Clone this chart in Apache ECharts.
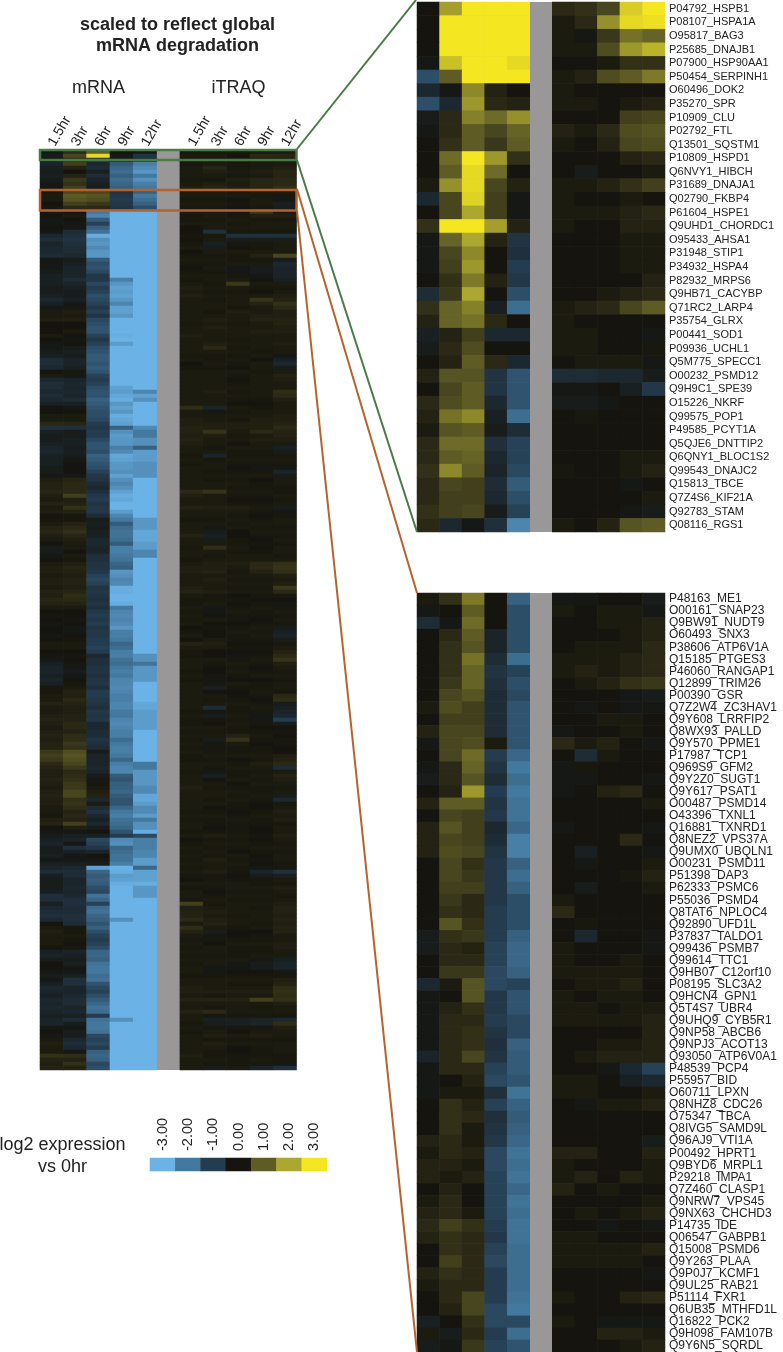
<!DOCTYPE html>
<html>
<head>
<meta charset="utf-8">
<title>scaled to reflect global mRNA degradation</title>
<style>
  html, body { margin: 0; padding: 0; background: #fff; }
  #chart { width: 783px; height: 1352px; }
</style>
<script src="https://cdn.jsdelivr.net/npm/echarts@6/dist/echarts.min.js"></script>
</head>
<body>
<div id="chart"></div>
<script>
const timeLabels = ['1.5hr', '3hr', '6hr', '9hr', '12hr']
const legendValues = [-3, -2, -1, 0, 1, 2, 3]
const scaleColors = ['#6bb3e6', '#44799f', '#233c4f', '#15140e', '#5e5b25', '#aca72e', '#f4e620']

// full heatmap, one array per time point, top to bottom
const mrna15 = [
  -.1,-.2,-.1,-.4,-.3,-.2,-.3,-.2,-.1,-.1,
  .05,.1,.1,0,.05,-.1,-.05,-.1,-.1,0,
  -.1,-.5,-.6,-.4,-.5,-.5,-.6,-.1,-.1,-.1,
  -.2,-.3,-.3,-.3,-.2,-.2,-.3,-.5,-.3,-.1,
  .1,.1,.15,0,0,0,.1,0,-.1,-.1,
  -.2,-.3,-.6,-.6,-.5,0,.1,-.5,-.6,-.6,
  -.5,-.6,-.5,-.3,0,0,.1,.1,.3,-.7,
  -.3,-.2,-.2,-.3,-.4,-.5,-.3,-.3,-.3,-.2,
  -.2,-.1,.15,.2,.2,.25,.15,.1,.2,.1,
  .15,0,.05,.1,.2,.25,.15,.1,0,-.2,
  -.2,-.1,0,.1,.15,.15,.1,.15,.15,.1,
  .2,.15,.25,.2,.1,0,.05,0,-.1,0,
  0,-.1,0,.1,.1,0,.05,-.1,-.3,-.4,
  -.4,-.3,-.4,-.3,.05,.05,.1,.1,.2,.1,
  .1,.15,.2,.15,.1,.15,.2,.15,.2,.2,
  .5,.6,.5,.3,.2,.15,.15,.2,.15,.1,
  .15,.2,.15,.15,.1,.1,.05,.15,.2,0,
  -.1,-.2,-.3,-.4,-.2,-.2,-.3,-.1,-.3,-.4,
  -.6,-.3,-.2,-.2,-.2,-.3,-.7,-.6,-.3,-.5,
  -.6,-.7,-.5,0,.1,.15,.1,.1,.1,0,
  -.3,-.4,-.2,0,0,-.1,-.2,-.1,-.3,-.5,
  -.4,-.3,-.5,-.4,-.5,-.4,-.3,-.4,-.4,-.1,
  0,-.1,.1,.15,.1,.1,.4,.2,.15,.2
]
const mrna3 = [
  .3,.7,.3,.6,.2,0,.2,.5,.4,.6,
  .7,1,.9,.6,.3,0,.1,0,-.1,-.1,
  -.6,-.7,-.8,-.7,-.6,-.6,-.5,-.2,-.3,-.4,
  -.4,-.4,-.6,-.4,-.3,-.2,-.2,-.3,-.1,.05,
  .15,.1,.15,0,0,.1,0,-.1,0,-.2,
  -.3,-.2,-.4,-.4,-.3,.05,-.1,-.4,-.5,-.4,
  -.5,-.4,-.6,-.3,-.1,0,.1,.1,.25,-.7,
  -.2,-.2,-.3,-.3,-.2,-.3,-.2,-.1,0,0,
  0,-.1,.25,.3,.3,.3,.6,.15,.2,.4,
  .2,.05,.05,.2,.3,.4,.25,.15,.1,.1,
  0,.1,.05,.15,.25,.2,.15,.2,.2,.15,
  .25,.35,.3,.2,.1,0,0,.05,0,-.1,
  -.1,0,.05,.1,.1,0,.05,0,.05,-.1,
  -.2,-.1,0,.05,.1,.2,.15,.3,.2,.15,
  .15,.2,.2,.3,.3,.2,.35,.35,.5,.4,
  .8,.9,.8,.7,.5,.3,.35,.4,.5,.5,
  .7,.7,.4,.45,.35,.2,.3,.2,.6,.15,
  -.1,-.3,-.4,-.1,-.7,-.3,-.1,-.1,-.3,-.5,
  -.6,-.6,-.4,-.4,-.5,-.4,-.5,-.7,-.7,-.6,
  -.6,-.7,-.7,-.6,.05,.05,.1,.05,0,.05,
  -.4,-.3,-.2,-.3,-.1,-.1,-.3,-.7,-.7,-.4,
  -.4,-.5,-.6,-.6,-.4,-.5,-.3,-.6,-.2,-.1,
  -.2,-.2,-.5,-.6,-.5,-.1,.35,.2,.4,.2
]
const mrna6 = [
  1,2.8,.4,-.5,-.6,-.3,-.6,-.4,-.3,-.2,
  .7,.9,.8,.5,.3,-2,-2.2,-1.5,-1.1,-1.6,
  -1.9,-2.9,-2.4,-2.5,-2.3,-2.5,-2.5,-1.5,-1.3,-1.4,
  -1.2,-.9,-.9,-1.2,-1,-1.1,-1.3,-1.2,-1.1,-.9,
  -1.1,-.8,-1.2,-1.3,-1.4,-1.4,-1.1,-.9,-1.1,-1.3,
  -1.4,-1.5,-1.5,-1.4,-1.5,-1.4,-1.1,-1,-1.1,-1.3,
  -1.4,-1.4,-1.6,-1.5,-1.4,-1.3,-1.3,-1.2,-1,-.9,
  -1,-1,-1.2,-1.4,-1.4,-1.3,-1.6,-1.5,-1.4,-1.3,
  -1.1,-.9,-.8,-.6,-.5,-.7,-.9,-1,-.8,-.9,
  -.9,-.6,-.2,-.3,-.2,-.3,-.3,-.5,-.5,-.4,
  -.4,-.7,-.7,-.8,-.8,-.9,-1.1,-1.2,-1.1,-.8,
  -.9,-.8,-.7,-.8,-.7,-.9,-1,-.9,-1,-.8,
  -.9,-.9,-1,-1,-1.1,-1,-.5,-.7,-.7,-.8,
  -.8,-.7,-.8,-.9,-.7,-1,-1,-.9,-.8,-.7,
  -.9,-.8,-.9,-.5,-.5,-.6,-.6,-.8,-.7,-.6,
  -.2,-.4,-.4,-.4,-.5,-.4,-.2,-.1,.05,.1,
  .15,.2,-.5,.1,-.6,-.8,-.5,-.3,-.5,-.2,
  0,-.3,-1.2,-1.1,-.9,-.4,0,-.1,-.2,-2.7,
  -1.7,-1.5,-1.6,-1.5,-1.3,-1.2,-1.9,-1.7,-1.1,-1.8,
  -1.9,-1.7,-1.6,-1.4,-1.6,-1.3,-1.1,-1,-1.1,-1.3,
  -1.7,-1.7,-1.6,-1.9,-2,-2,-1.8,-1.9,-1.4,-1.2,
  -1.1,-1.3,-1.5,-1.7,-1.9,-1.8,-1,-1.9,-2,-2,
  -1.9,-1.2,-1.1,-1.2,-1,-1.6,-1.7,-1.6,-1.2,-1.3
]
const mrna9 = [
  0,-.1,-.2,-1.5,-1.7,-1.8,-1.6,-1.8,-1.7,-1.6,
  -.8,-.9,-1,-.9,-.8,-3,-3,-3,-3,-3,
  -3,-3,-3,-3,-3,-3,-3,-3,-3,-3,
  -3,-3,-2.1,-2.5,-2.7,-2.6,-2.7,-2.5,-2.2,-2.7,
  -2.7,-2.5,-3,-3,-3,-3,-2.9,-3,-2.6,-3,
  -3,-3,-3,-3,-3,-3,-3,-3,-3,-2.7,
  -2.6,-2.8,-2.9,-2.5,-2.7,-2.5,-2.9,-2.8,-2.7,-1.6,
  -2.4,-2.6,-2.5,-2.5,-2.1,-2.3,-2.8,-2.7,-2.5,-2.5,
  -2.4,-2.7,-2.4,-2.2,-2.4,-2.7,-2.9,-2.8,-3,-3,
  -2.6,-2.2,-2,-1.5,-1.8,-1.9,-1.9,-1.8,-1.5,-2.1,
  -2.1,-2,-1.9,-1.7,-1.6,-2.5,-2.4,-2.2,-2.3,-2.9,
  -2.9,-3,-3,-2.9,-2,-2.2,-2.3,-2.2,-2.3,-2.5,
  -2.1,-2.1,-2,-1.7,-1.8,-2.1,-2.1,-1.9,-1.8,-2,
  -2.1,-2,-2.2,-2.2,-2.3,-2.2,-2.1,-2.1,-2.2,-2.2,
  -2,-2,-2.2,-2.3,-2.2,-2.1,-2.1,-1.8,-2,-2.1,
  -2.1,-2,-1.7,-2.1,-2.2,-2.2,-1.5,-1.4,-1.6,-1.6,
  -1.7,-1.5,-1.4,-1.4,-1.7,-2,-2.1,-1.9,-1.8,-1.7,
  -1.4,-1,-2.3,-2.4,-1.7,-1.8,-1.9,-1.9,-2.1,-3,
  -2.9,-2.6,-2.7,-2.9,-3,-3,-3,-3,-3,-3,
  -3,-3,-2.4,-3,-3,-3,-3,-3,-3,-3,
  -3,-3,-3,-3,-3,-3,-3,-3,-3,-3,
  -3,-3,-3,-3,-3,-3,-3,-2.4,-3,-3,
  -3,-3,-3,-3,-3,-3,-3,-3,-3,-3
]
const mrna12 = [
  -.1,-.8,-.6,-2.1,-2.3,-2.5,-2,-2.4,-2.1,-2,
  -1.6,-2,-1.8,-1.6,-1.3,-3,-3,-3,-3,-3,
  -3,-3,-3,-3,-3,-3,-3,-3,-3,-3,
  -3,-3,-3,-3,-3,-3,-3,-3,-3,-3,
  -3,-3,-3,-3,-3,-3,-3,-3,-3,-3,
  -3,-3,-3,-3,-3,-3,-3,-3,-3,-3,
  -2.2,-2.7,-2.4,-3,-3,-3,-3,-3,-3,-2.3,
  -2,-2,-2.4,-2.4,-1.6,-2.6,-2.6,-2.6,-2.4,-2.4,
  -2.4,-2.4,-3,-3,-3,-3,-3,-3,-3,-3,
  -3,-3,-2.5,-2.5,-2.5,-2.8,-2.8,-2.8,-2.6,-2.6,
  -2.2,-2.2,-3,-3,-3,-3,-3,-3,-3,-3,
  -3,-3,-3,-3,-3,-3,-3,-3,-3,-3,
  -3,-3,-3,-3,-3,-3,-2.4,-2.4,-1.9,-2.5,
  -2.5,-2.5,-2.5,-3,-3,-3,-3,-3,-2.8,-2.8,
  -2.6,-2.6,-2.6,-2.6,-2.6,-3,-3,-3,-3,-3,
  -3,-3,-3,-2,-2,-2.5,-2.5,-2.5,-2.5,-2.3,
  -2.3,-2.8,-2.8,-2.6,-2.3,-2.3,-2.6,-2,-2.4,-2.4,
  -2.9,-1.2,-2.1,-2.1,-2.1,-2.2,-2.2,-2.6,-2.6,-1.7,
  -2.7,-2.7,-2.7,-2.9,-2.5,-2.5,-2.5,-3,-3,-3,
  -3,-3,-3,-3,-3,-3,-3,-3,-3,-3,
  -3,-3,-3,-3,-3,-3,-3,-3,-3,-3,
  -3,-3,-3,-3,-3,-3,-3,-3,-3,-3,
  -3,-3,-3,-3,-3,-3,-3,-3,-3,-3
]
const itraq15 = [
  .05,.1,.05,.05,.1,.1,.1,.05,.1,.15,
  .1,.1,.05,.1,.05,.1,.05,.05,.1,0,
  0,.05,0,.05,.1,0,.05,.1,.05,0,
  .05,.1,.05,.1,.15,.1,.15,.1,.1,.1,
  .1,.1,.1,.05,.1,.1,.15,.1,.1,.1,
  .1,.05,.1,0,.05,.1,.1,.1,.1,.1,
  .1,.1,.1,.1,.35,.1,.1,.15,.15,.2,
  .2,.15,.2,.15,.1,.1,.05,.1,.05,.1,
  .1,.1,.1,.1,.1,.3,.15,.1,.1,.2,
  .1,.1,.05,.1,.1,.1,.2,.1,.1,.05,
  .1,.1,.05,.1,.15,.15,.1,.1,.1,.15,
  .2,.1,.05,.05,.1,.05,.1,.05,.1,0,
  .05,.1,0,.2,.1,.05,.05,.1,.1,.1,
  .05,.1,.05,.1,.1,.1,.1,.1,.1,.1,
  .05,.1,.05,.05,.1,.05,.1,.05,.1,.05,
  .1,.05,.05,.1,.1,.05,.1,.1,.1,.15,
  .1,.1,.1,.1,.1,.05,.1,.05,.1,.1,
  .05,.1,0,.05,.1,.05,.1,.05,.1,.05,
  .1,.05,0,.1,.05,.1,.1,.05,.6,.15,
  .2,.2,.3,.1,.35,.2,.1,.05,.1,.05,
  .1,.05,.1,.05,.1,.1,.05,.1,.1,.15,
  .15,.1,.2,.1,.1,.2,.1,.1,.05,.1,
  .05,.1,.1,.1,.1,.1,.15,.1,.1,.1
]
const itraq3 = [
  .05,.1,.05,.1,.25,.15,.1,.05,.15,.25,
  .1,.1,.05,.1,.05,.1,.1,.05,.1,.1,
  -.7,.05,.1,-.3,-.2,.1,.05,.1,.05,.1,
  .05,.1,.1,.05,.1,.05,.1,.05,.1,.1,
  .05,.1,.15,.1,.15,.1,.1,.1,.15,.3,
  .1,.05,.05,.1,.05,.1,.1,.1,.1,.1,
  .15,.1,.1,.1,-.4,-.1,.1,.1,.15,.15,
  .45,.15,.1,.1,.05,.1,-.4,.05,.1,.1,
  .05,.1,.05,.1,.1,.45,.1,.1,.1,.15,
  .1,.1,.05,.1,-.1,-.2,-.3,-.2,.1,.35,
  .1,.05,.1,.15,.15,.2,.1,.15,.1,.1,
  .15,.05,.05,.1,-.1,-.1,-.05,.1,0,.05,
  0,0,.1,.15,.1,0,0,.1,.05,0,
  0,.05,-.1,.05,-.3,0,.1,.05,.1,-.6,
  -.1,-.2,.05,0,.1,.05,.1,-.2,-.1,.05,
  .05,.1,.05,.1,.05,-.1,-.3,0,.1,.05,
  .1,.1,.05,.1,0,.05,.1,.05,.05,0,
  .05,.15,.05,.1,.05,.1,.05,.15,.1,.1,
  .15,.05,.05,.1,.05,0,.05,.1,.05,.1,
  .15,.1,.15,.2,.1,-.2,-.1,.05,0,.1,
  .1,.05,.1,.1,-.1,-.1,.05,.1,.1,.1,
  .15,.05,.2,.1,.05,.3,.05,-.3,-.2,.05,
  .1,.15,.05,.15,.1,.05,.05,.1,.05,-.2
]
const itraq6 = [
  .05,0,.05,.05,.05,.1,.05,.15,.1,.15,
  .05,.1,0,.05,0,.05,.05,.1,.05,.1,
  .05,-.7,-.2,.05,0,.1,.05,.05,.1,-.1,
  -.1,.05,.1,.5,.1,.05,.1,.1,.1,.05,
  .15,.1,.1,.05,.1,.1,.1,.05,.1,.05,
  .1,.05,.1,.05,0,.1,.05,0,.05,.1,
  .05,.1,.05,0,.1,.05,.1,.05,.15,.15,
  .1,.05,.1,0,.1,.05,.05,.1,.05,0,
  .05,.1,.05,.1,.05,.1,.05,0,.05,.15,
  .1,.05,.1,.05,.1,0,0,.05,.05,.1,
  .05,.1,.1,.15,.1,.05,.1,.05,.1,.05,
  .1,0,.05,0,.05,.1,.05,.05,0,.05,
  .1,.05,.05,0,.05,0,-.1,.05,.1,.05,
  .1,.05,0,.1,.05,0,-.05,.05,.1,.05,
  .05,.1,.05,.1,.05,.05,.2,.45,.1,.05,
  .05,.1,0,.05,.1,.05,.05,.1,0,.05,
  .1,.05,.1,.05,.05,0,.05,.1,.05,.05,
  .05,.1,.05,.1,.05,0,.1,.05,.1,.05,
  .05,0,.05,.1,.1,.05,.1,.05,.1,.1,
  .1,.05,.1,.1,.05,0,0,.05,.1,.05,
  .05,.05,.1,-.1,-.1,0,.05,.1,.05,.1,
  .15,.1,.2,.1,.1,.1,.05,-.3,-.3,.05,
  0,.1,.05,.1,0,0,.05,.05,.05,.1
]
const itraq9 = [
  .1,.3,.1,.1,.1,.15,.1,.25,.25,.25,
  .1,.05,.1,.1,.05,.5,.15,.05,.1,.1,
  .05,-.7,-.2,.05,.05,.1,.2,.05,.1,-.2,
  -.2,-.1,0,.1,.05,0,.1,.45,.2,.1,
  .1,.15,.2,.1,.1,.15,.1,.1,.1,.1,
  .05,.1,0,.1,.1,.05,.1,.1,.1,.1,
  .1,.1,.05,0,.05,.1,.1,.15,.15,.15,
  .3,.1,.15,.1,.1,.05,.05,.1,.05,-.1,
  .05,.1,0,.05,.05,.1,.05,0,.05,.1,
  .05,0,.05,.1,.05,.1,.05,0,.05,0,
  .05,.1,.1,.3,.3,.2,.1,.05,.1,.05,
  .1,.05,0,.05,.1,.05,.05,0,.05,.1,
  .05,.1,.05,0,.05,0,.05,.1,.05,0,
  .05,.1,0,.05,.05,.1,.05,0,.05,.1,
  .05,-.1,-.1,.05,0,.05,.1,.05,0,.05,
  .05,.1,.05,.15,.1,.05,.1,.05,.1,.05,
  .05,.1,.05,0,0,.05,.1,.05,.05,0,
  0,.05,0,.05,.1,.05,0,.05,0,-.1,
  -.4,-.2,.05,.05,.1,.05,.1,.05,.1,.05,
  .1,.1,.1,.05,.1,0,.05,.05,.1,.05,
  .05,.1,-.1,-.2,-.2,0,.05,.1,.05,.1,
  .15,.1,.6,.1,.05,.1,.05,-.4,-.4,.05,
  .1,.15,.05,.1,.05,.05,.05,.1,.05,-.4
]
const itraq12 = [
  .1,.25,.1,.1,.15,.25,.25,.3,.3,.4,
  .1,.05,-.1,-.3,-.2,.1,.15,.05,.1,.1,
  .05,-.7,-.2,.1,.1,.1,.7,-.2,-.5,-.4,
  -.4,-.4,-.3,.1,.05,.1,.15,.2,.4,.3,
  .15,.15,.2,.2,.15,.15,.1,.1,.15,.1,
  .1,-.1,-.3,-.5,-.2,.1,.2,.15,.1,.1,
  .35,.3,.15,.1,.1,.1,.15,.15,.2,.3,
  .2,.2,.15,.1,-.3,-.2,.05,.1,.05,-.1,
  -.4,-.2,.1,.1,.05,.05,.1,.05,.1,-.2,
  -.1,.05,.1,.1,.05,.1,.05,.1,.05,.1,
  .1,.05,.1,.4,.45,.4,.15,.1,.15,.5,
  .3,.05,0,-.1,.05,.1,.05,.1,.05,-.2,
  -.3,-.4,-.2,.05,.1,.2,.3,.45,.15,.1,
  .05,.1,.05,.1,.1,.05,.3,.35,-.2,-.3,
  -.4,-.5,-1,-.2,0,.05,0,.05,.05,0,
  0,.15,.2,.3,-.6,.1,.2,.15,.1,.05,
  .1,-.2,-.5,.05,.1,.15,.1,.15,.05,.1,
  .1,.15,.1,.05,.1,.05,.1,.1,.05,.05,
  -.7,-.3,.1,.05,.15,.1,.05,.1,.15,.2,
  .2,.15,.2,.15,.2,.2,.1,.1,.15,.15,
  .1,.1,-.3,-.4,-.4,-.1,.05,.15,.2,.35,
  .4,.35,.4,.15,.1,.1,.05,-.5,.35,.15,
  .1,.1,.05,.1,.1,.1,.05,.05,-.1,-.7
]

// green cluster, mRNA x5 then iTRAQ x5 per protein
const topLabels = [
  'P04792_HSPB1', 'P08107_HSPA1A', 'O95817_BAG3', 'P25685_DNAJB1', 'P07900_HSP90AA1',
  'P50454_SERPINH1', 'O60496_DOK2', 'P35270_SPR', 'P10909_CLU', 'P02792_FTL',
  'Q13501_SQSTM1', 'P10809_HSPD1', 'Q6NVY1_HIBCH', 'P31689_DNAJA1', 'Q02790_FKBP4',
  'P61604_HSPE1', 'Q9UHD1_CHORDC1', 'O95433_AHSA1', 'P31948_STIP1', 'P34932_HSPA4',
  'P82932_MRPS6', 'Q9HB71_CACYBP', 'Q71RC2_LARP4', 'P35754_GLRX', 'P00441_SOD1',
  'P09936_UCHL1', 'Q5M775_SPECC1', 'O00232_PSMD12', 'Q9H9C1_SPE39', 'O15226_NKRF',
  'Q99575_POP1', 'P49585_PCYT1A', 'Q5QJE6_DNTTIP2', 'Q6QNY1_BLOC1S2', 'Q99543_DNAJC2',
  'Q15813_TBCE', 'Q7Z4S6_KIF21A', 'Q92783_STAM', 'Q08116_RGS1'
]
const topValues = [
  [0,1.9,3,3,3,.3,.4,.7,2.6,3],
  [0,3,3,3,3,.1,.3,1.7,2.8,2.9],
  [0,3,3,3,3,.1,-.1,.5,1.3,1.1],
  [0,3,3,3,3,.1,.1,.8,1.8,2.2],
  [-.1,2.4,3,3,2.8,0,0,.1,.4,.4],
  [-1.3,1,3,3,3,.1,.2,.8,1,1.4],
  [-.5,-.1,1.6,.2,0,.1,0,0,0,0],
  [-1.3,-.5,1.8,.3,.2,.1,.1,0,.1,.2],
  [-.2,.3,1.5,1.2,1.7,0,0,0,.6,.7],
  [-.1,.3,1,.7,1.1,.2,.1,.3,.8,.9],
  [0,.4,1,.5,1,.1,0,.2,.7,.8],
  [0,1.2,3,1.8,.4,0,0,0,.2,.3],
  [0,1,2.8,1.2,0,0,-.2,0,0,.1],
  [.1,1.7,2.8,.7,.2,.1,.1,.2,.4,.6],
  [-.5,.7,2.7,.6,-.1,.1,0,0,.1,0],
  [0,.7,2,.6,-.1,.1,.1,.1,.2,.3],
  [.4,3,3,1.9,.2,.1,0,0,.2,.2],
  [-.1,1.1,2,.2,-.8,0,0,0,.1,.1],
  [-.1,.7,1.6,0,-.7,0,0,0,.1,.1],
  [-.1,.6,1.8,0,-1,0,0,0,.1,.1],
  [0,.4,1.4,.2,-.9,0,0,0,0,.2],
  [-.6,.5,2,0,-1.3,0,0,.1,.2,.3],
  [.4,1.1,1.5,-.3,-1.8,.1,.2,.3,.7,1],
  [.2,1.1,1.3,.3,0,.1,0,0,0,0],
  [-.3,.2,.6,-.5,-.5,.1,.1,0,0,-.1],
  [-.2,.3,.8,0,0,.1,.1,0,0,.05],
  [0,.2,1,.3,-.5,0,.1,.1,.1,-.1],
  [.2,.9,.9,-.8,-1.4,-.6,-.6,-.5,-.5,-.2],
  [0,.7,1,-.8,-1.4,-.1,-.1,0,-.3,-.9],
  [.3,.8,1,-.5,-1.4,-.2,-.2,-.1,0,0],
  [.2,1.3,1.6,-.3,-1.8,0,.05,0,0,0],
  [.1,.9,1,-.2,-.6,0,0,0,0,0],
  [.3,1.2,1.2,-.7,-1.1,0,0,0,0,0],
  [.3,1,1.1,-.5,-1.1,0,0,0,.1,.1],
  [.4,1.6,1,-.4,-1.2,.05,0,0,.1,.2],
  [.3,.7,.6,-.6,-1.5,0,0,0,-.1,0],
  [.3,.6,.6,-.5,-1.3,0,0,0,0,.1],
  [.4,.6,.7,-.2,-1.1,0,0,0,-.1,-.2],
  [.3,-.5,-.1,-.7,-2.2,.1,0,.2,.9,1]
]

// orange cluster
const bottomLabels = [
  'P48163_ME1', 'O00161_SNAP23', 'Q9BW91_NUDT9', 'O60493_SNX3', 'P38606_ATP6V1A',
  'Q15185_PTGES3', 'P46060_RANGAP1', 'Q12899_TRIM26', 'P00390_GSR', 'Q7Z2W4_ZC3HAV1',
  'Q9Y608_LRRFIP2', 'Q8WX93_PALLD', 'Q9Y570_PPME1', 'P17987_TCP1', 'Q969S9_GFM2',
  'Q9Y2Z0_SUGT1', 'Q9Y617_PSAT1', 'O00487_PSMD14', 'O43396_TXNL1', 'Q16881_TXNRD1',
  'Q8NEZ2_VPS37A', 'Q9UMX0_UBQLN1', 'O00231_PSMD11', 'P51398_DAP3', 'P62333_PSMC6',
  'P55036_PSMD4', 'Q8TAT6_NPLOC4', 'Q92890_UFD1L', 'P37837_TALDO1', 'Q99436_PSMB7',
  'Q99614_TTC1', 'Q9HB07_C12orf10', 'P08195_SLC3A2', 'Q9HCN4_GPN1', 'Q5T4S7_UBR4',
  'Q9UHQ9_CYB5R1', 'Q9NP58_ABCB6', 'Q9NPJ3_ACOT13', 'Q93050_ATP6V0A1', 'P48539_PCP4',
  'P55957_BID', 'O60711_LPXN', 'Q8NHZ8_CDC26', 'O75347_TBCA', 'Q8IVG5_SAMD9L',
  'Q96AJ9_VTI1A', 'P00492_HPRT1', 'Q9BYD6_MRPL1', 'P29218_IMPA1', 'Q7Z460_CLASP1',
  'Q9NRW7_VPS45', 'Q9NX63_CHCHD3', 'P14735_IDE', 'Q06547_GABPB1', 'Q15008_PSMD6',
  'Q9Y263_PLAA', 'Q9P0J7_KCMF1', 'Q9UL25_RAB21', 'P51114_FXR1', 'Q6UB35_MTHFD1L',
  'Q16822_PCK2', 'Q9H098_FAM107B', 'Q9Y6N5_SQRDL'
]
const bottomValues = [
  [.1,.4,1.4,0,-1.6,-.1,-.1,0,0,-.2],
  [-.1,0,1,0,-1.3,.1,0,.1,.1,-.1],
  [-.6,-.1,1.2,0,-1.3,0,0,.1,.1,.2],
  [0,.3,1,-.4,-1.3,0,0,0,.1,.2],
  [0,.4,.9,-.4,-1.3,0,.1,.1,.1,.3],
  [0,.4,1.3,-.6,-1.8,.1,.1,.1,.2,.3],
  [0,.4,1.1,-.8,-1.1,.1,.2,.1,.2,.3],
  [0,.5,1.1,-.7,-1.3,0,.1,.2,.4,.5],
  [0,.7,.9,-.6,-1.2,0,0,0,-.1,-.2],
  [.1,.8,.6,-.6,-1.4,0,-.1,0,-.1,-.1],
  [0,.6,.6,-.6,-1.4,0,0,.1,.1,0],
  [.2,.7,.7,-.6,-1.4,-.1,0,0,.1,0],
  [-.1,.7,.8,.1,-1.4,.3,.1,.2,0,-.1],
  [0,.7,1.2,-1,-1.7,0,-.6,.1,0,0],
  [-.1,.3,1.1,-.8,-2,-.1,.05,0,0,0],
  [-.2,.3,.9,-.6,-1.8,-.1,-.1,0,0,-.1],
  [0,.2,1.8,-1,-2,-.1,0,.2,.3,0],
  [.2,1,1,-.8,-1.9,0,0,0,0,.1],
  [0,.7,.6,-.9,-1.9,0,0,0,0,0],
  [.2,.9,.6,-.5,-1.7,-.1,0,0,0,-.1],
  [.2,.7,.6,-.6,-2.1,0,0,0,.3,0],
  [.2,.8,.7,-.8,-2.1,0,-.3,0,0,-.1],
  [0,.7,.4,-.9,-1.6,0,-.1,0,0,.1],
  [0,.7,.5,-.9,-1.8,0,0,0,.05,.2],
  [0,.6,.6,-.9,-1.6,0,-.2,0,0,.1],
  [0,.5,.3,-.9,-1.3,.1,0,0,0,0],
  [0,.4,.3,-1,-1.3,.3,0,0,0,0],
  [0,.9,.4,-1,-1.3,0,.05,0,0,0],
  [-.2,.4,.5,-1,-1.6,0,-.5,0,0,-.1],
  [-.2,.3,.2,-1.1,-1.7,.1,0,0,0,-.1],
  [0,.3,.3,-1.1,-1.7,.1,0,0,.1,0],
  [0,.5,.5,-1.2,-1.6,.1,.1,.1,.1,0],
  [-.5,.1,.9,-1.2,-1.1,0,.1,.1,.2,0],
  [-.1,0,.9,-.9,-1.4,.1,0,.1,.1,0],
  [-.1,.2,.4,-.9,-1.4,.1,.1,0,.1,.1],
  [-.1,.3,.3,-1,-1.2,.1,.1,.1,.1,.2],
  [-.1,.3,.4,-.8,-1.2,0,0,0,0,.2],
  [-.1,.3,.4,-.7,-1.6,0,0,.1,.1,.2],
  [-.4,.3,.7,-.8,-1.5,0,.1,.2,.2,.2],
  [-.1,.3,.3,-1.1,-1.5,0,0,-.1,-.5,-1.1],
  [-.1,0,.2,-1.2,-1.4,.1,.1,0,-.3,-.5],
  [-.1,.1,.1,-.7,-1.9,.1,.1,0,0,.1],
  [0,.4,.2,-1.1,-1.6,0,-.1,.1,.1,.2],
  [0,.4,.3,-.7,-1.5,0,0,0,0,0],
  [0,.4,.1,-.8,-1.6,0,0,0,0,0],
  [.2,.3,.1,-.9,-1.7,0,0,0,0,-.2],
  [.1,.3,.2,-1.2,-1.9,.2,.2,0,0,.2],
  [.2,.2,.1,-1.2,-1.8,.1,0,0,0,.1],
  [.2,.1,.2,-1.1,-1.9,.1,.2,0,.2,.1],
  [0,.2,0,-1.1,-1.7,.2,0,.1,0,0],
  [.1,.3,0,-1.1,-1.9,0,0,0,0,.1],
  [.2,.3,.1,-1.1,-1.8,0,.1,0,.1,.2],
  [.3,.6,.4,-1,-1.9,0,0,-.1,0,-.1],
  [.2,.4,.3,-.9,-1.9,.1,.1,0,0,0],
  [0,.4,.3,-1.1,-1.8,.1,.1,.1,.1,.2],
  [0,.6,.3,-1.2,-1.8,.1,.1,.1,.1,0],
  [.2,.4,.3,-1,-1.8,0,0,0,0,-.1],
  [.1,.3,.3,-1,-1.8,0,0,0,0,0],
  [0,.3,.7,-1,-1.9,.1,0,0,.2,.3],
  [0,.2,.7,-1.2,-2,0,0,0,0,0],
  [-.3,0,.4,-1.2,-1.2,.1,0,-.1,-.1,-.1],
  [.1,-.2,.3,-1,-1.8,0,0,.2,.2,.1],
  [-.2,-.1,.5,-1.1,-1.4,0,0,0,.1,.2]
]

const chart = echarts.init(document.getElementById('chart'))

const fontFamily = 'Liberation Sans'
const inkColor = '#222222'
const greenColor = '#4a7a45'
const orangeColor = '#b5622c'
const gapColor = '#999797'

// the gap column between mRNA and iTRAQ gets no cells, the grid background shows through
const columnNames = [...timeLabels, ' ', ...timeLabels.map(t => t + ' ')]
const toColumn = (i) => (i < 5 ? i : i + 1)

const mainColumns = [mrna15, mrna3, mrna6, mrna9, mrna12, itraq15, itraq3, itraq6, itraq9, itraq12]
const mainRows = mrna15.map((_, i) => i)
const mainData = []
mainColumns.forEach((col, c) => col.forEach((v, r) => mainData.push([toColumn(c), r, v])))

const rowsToData = (rows) => {
  const out = []
  rows.forEach((row, r) => row.forEach((v, c) => out.push([toColumn(c), r, v])))
  return out
}

const hiddenAxis = { axisLine: { show: false }, axisTick: { show: false }, splitLine: { show: false } }

const gridBox = (left, top, width, height) => ({
  left, top, width, height,
  show: true,
  backgroundColor: gapColor,
  borderWidth: 0
})

const proteinAxis = (gridIndex, labels, fontSize) => ({
  type: 'category',
  gridIndex,
  data: labels,
  inverse: true,
  position: 'right',
  ...hiddenAxis,
  axisLabel: { interval: 0, margin: 4, fontSize, fontFamily, color: inkColor, padding: [3, 0, 0, 0] }
})

const heatSeries = (xAxisIndex, yAxisIndex, data) => ({
  type: 'heatmap',
  xAxisIndex,
  yAxisIndex,
  data,
  progressive: 0,
  emphasis: { disabled: true }
})

const textItem = (text, x, y, fontSize, fontWeight) => ({
  type: 'text',
  x, y,
  style: { text, x: 0, y: 0, align: 'center', verticalAlign: 'middle', fontSize, fontWeight: fontWeight || 'normal', fontFamily, fill: inkColor }
})

const lineItem = (x1, y1, x2, y2, stroke) => ({
  type: 'line',
  z: 10,
  shape: { x1, y1, x2, y2 },
  style: { stroke, lineWidth: 2 }
})

const boxItem = (x, y, width, height, stroke) => ({
  type: 'rect',
  z: 10,
  shape: { x, y, width, height },
  style: { fill: 'transparent', stroke, lineWidth: 2.5 }
})

const option = {
  animation: false,
  backgroundColor: '#ffffff',
  tooltip: { show: false },
  grid: [
    gridBox(40, 150, 256.5, 920),
    gridBox(417, 2, 248, 530),
    gridBox(417, 593, 248, 759),
    { left: 150, top: 1158, width: 177, height: 13, show: false }
  ],
  xAxis: [
    {
      type: 'category', gridIndex: 0, position: 'top', data: columnNames, ...hiddenAxis,
      axisLabel: {
        interval: 0, rotate: -60, margin: 5, fontSize: 14, fontFamily, color: inkColor,
        formatter: (v) => v.trim()
      }
    },
    { type: 'category', gridIndex: 1, data: columnNames, ...hiddenAxis, axisLabel: { show: false } },
    { type: 'category', gridIndex: 2, data: columnNames, ...hiddenAxis, axisLabel: { show: false } },
    {
      type: 'category', gridIndex: 3, position: 'top', data: legendValues.map(v => v.toFixed(2)), ...hiddenAxis,
      axisLabel: { interval: 0, rotate: -90, margin: 7, fontSize: 14.5, fontFamily, color: inkColor }
    }
  ],
  yAxis: [
    { type: 'category', gridIndex: 0, data: mainRows, inverse: true, ...hiddenAxis, axisLabel: { show: false } },
    proteinAxis(1, topLabels, 11),
    proteinAxis(2, bottomLabels, 12),
    { type: 'category', gridIndex: 3, data: ['scale'], ...hiddenAxis, axisLabel: { show: false } }
  ],
  visualMap: {
    show: false,
    type: 'continuous',
    min: -3,
    max: 3,
    seriesIndex: [0, 1, 2, 3],
    inRange: { color: scaleColors }
  },
  series: [
    heatSeries(0, 0, mainData),
    heatSeries(1, 1, rowsToData(topValues)),
    heatSeries(2, 2, rowsToData(bottomValues)),
    heatSeries(3, 3, legendValues.map((v, i) => [i, 0, v]))
  ],
  graphic: [
    textItem('scaled to reflect global', 177.5, 25, 18, 'bold'),
    textItem('mRNA degradation', 177.5, 46, 18, 'bold'),
    textItem('mRNA', 98.5, 88, 18),
    textItem('iTRAQ', 238.5, 88, 18),
    textItem('log2 expression', 62.5, 1145, 18),
    textItem('vs 0hr', 62.5, 1167, 18),
    boxItem(40, 150, 256.5, 10, greenColor),
    boxItem(40, 190, 256.5, 20.5, orangeColor),
    lineItem(297, 149, 416, 0, greenColor),
    lineItem(297, 160, 417, 532, greenColor),
    lineItem(297, 189, 417, 593, orangeColor),
    lineItem(297, 211, 417, 1352, orangeColor)
  ]
}

chart.setOption(option)
</script>
</body>
</html>
